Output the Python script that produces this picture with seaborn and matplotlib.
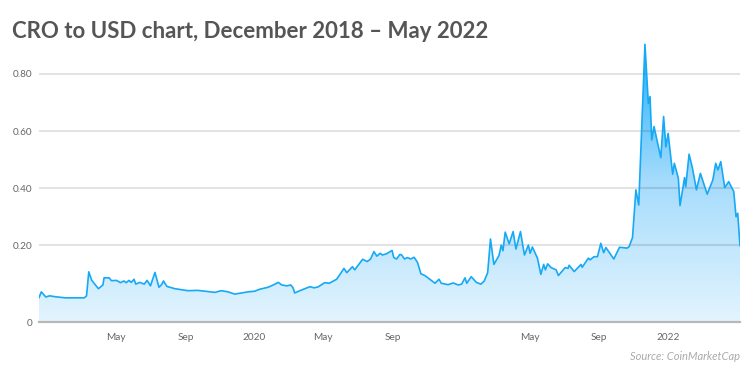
import numpy as np
import pandas as pd
import matplotlib
matplotlib.use("Agg")
import matplotlib.pyplot as plt
import matplotlib.dates as mdates
from matplotlib.colors import LinearSegmentedColormap
import seaborn as sns

# ---- data -------------------------------------------------------------
dates = [
    "2018-12-16", "2018-12-20", "2018-12-28", "2019-01-04", "2019-01-13", "2019-01-31",
    "2019-03-06", "2019-03-10", "2019-03-14", "2019-03-19", "2019-03-31", "2019-04-08",
    "2019-04-10", "2019-04-19", "2019-04-23", "2019-05-02", "2019-05-09", "2019-05-15",
    "2019-05-19", "2019-05-24", "2019-05-28", "2019-06-02", "2019-06-05", "2019-06-12",
    "2019-06-20", "2019-06-25", "2019-07-01", "2019-07-09", "2019-07-16", "2019-07-21",
    "2019-07-24", "2019-07-30", "2019-08-13", "2019-09-05", "2019-09-23", "2019-10-23",
    "2019-11-03", "2019-11-15", "2019-11-27", "2019-12-09", "2019-12-21", "2020-01-01",
    "2020-01-10", "2020-01-25", "2020-02-03", "2020-02-12", "2020-02-18", "2020-02-27",
    "2020-03-05", "2020-03-09", "2020-03-12", "2020-03-21", "2020-03-30", "2020-04-08",
    "2020-04-15", "2020-04-22", "2020-05-04", "2020-05-12", "2020-05-25", "2020-05-31",
    "2020-06-07", "2020-06-12", "2020-06-22", "2020-06-26", "2020-07-10", "2020-07-18",
    "2020-07-24", "2020-07-30", "2020-08-04", "2020-08-10", "2020-08-14", "2020-08-21",
    "2020-08-31", "2020-09-03", "2020-09-08", "2020-09-14", "2020-09-17", "2020-09-22",
    "2020-09-27", "2020-10-03", "2020-10-09", "2020-10-15", "2020-10-21", "2020-10-28",
    "2020-11-15", "2020-11-22", "2020-11-26", "2020-12-08", "2020-12-17", "2020-12-26",
    "2021-01-01", "2021-01-07", "2021-01-10", "2021-01-18", "2021-01-27", "2021-02-04",
    "2021-02-10", "2021-02-16", "2021-02-21", "2021-02-27", "2021-03-08", "2021-03-12",
    "2021-03-15", "2021-03-19", "2021-03-26", "2021-04-02", "2021-04-07", "2021-04-15",
    "2021-04-22", "2021-04-29", "2021-05-02", "2021-05-06", "2021-05-15", "2021-05-21",
    "2021-05-26", "2021-05-29", "2021-06-02", "2021-06-08", "2021-06-17", "2021-06-21",
    "2021-07-03", "2021-07-08", "2021-07-10", "2021-07-19", "2021-07-31", "2021-08-02",
    "2021-08-13", "2021-08-16", "2021-08-23", "2021-08-29", "2021-09-04", "2021-09-09",
    "2021-09-13", "2021-09-27", "2021-10-07", "2021-10-12", "2021-10-20", "2021-10-24",
    "2021-10-30", "2021-11-05", "2021-11-10", "2021-11-21", "2021-11-27", "2021-11-30",
    "2021-12-03", "2021-12-07", "2021-12-19", "2021-12-24", "2021-12-28", "2022-01-01",
    "2022-01-09", "2022-01-12", "2022-01-19", "2022-01-22", "2022-01-30", "2022-02-01",
    "2022-02-07", "2022-02-13", "2022-02-20", "2022-02-27", "2022-03-11", "2022-03-21",
    "2022-03-26", "2022-03-30", "2022-04-04", "2022-04-11", "2022-04-18", "2022-04-27",
    "2022-05-01", "2022-05-04", "2022-05-08",
]
prices = [
    0.016, 0.037, 0.019, 0.023, 0.020, 0.016,
    0.016, 0.023, 0.107, 0.078, 0.048, 0.061,
    0.086, 0.086, 0.076, 0.077, 0.069, 0.075,
    0.069, 0.077, 0.070, 0.081, 0.064, 0.070,
    0.064, 0.077, 0.058, 0.105, 0.053, 0.063,
    0.075, 0.056, 0.048, 0.041, 0.042, 0.035,
    0.041, 0.037, 0.029, 0.033, 0.037, 0.039,
    0.046, 0.053, 0.061, 0.070, 0.061, 0.058,
    0.061, 0.051, 0.033, 0.041, 0.048, 0.055,
    0.051, 0.054, 0.069, 0.067, 0.081, 0.098,
    0.119, 0.104, 0.125, 0.114, 0.151, 0.143,
    0.152, 0.178, 0.162, 0.172, 0.166, 0.170,
    0.182, 0.157, 0.152, 0.168, 0.166, 0.152,
    0.157, 0.152, 0.158, 0.140, 0.100, 0.094,
    0.067, 0.081, 0.067, 0.062, 0.068, 0.061,
    0.064, 0.086, 0.067, 0.090, 0.070, 0.064,
    0.075, 0.104, 0.222, 0.133, 0.164, 0.201,
    0.181, 0.246, 0.205, 0.248, 0.187, 0.248,
    0.166, 0.201, 0.172, 0.194, 0.155, 0.098,
    0.133, 0.114, 0.135, 0.122, 0.114, 0.094,
    0.122, 0.119, 0.130, 0.108, 0.133, 0.123,
    0.155, 0.149, 0.160, 0.160, 0.207, 0.174,
    0.192, 0.152, 0.193, 0.192, 0.190, 0.195,
    0.227, 0.394, 0.341, 0.904, 0.697, 0.721,
    0.569, 0.616, 0.507, 0.651, 0.545, 0.592,
    0.449, 0.487, 0.435, 0.339, 0.437, 0.405,
    0.519, 0.470, 0.394, 0.452, 0.379, 0.429,
    0.487, 0.464, 0.493, 0.402, 0.423, 0.388,
    0.300, 0.312, 0.198,
]
xtick_dates = ["2019-05-01", "2019-09-01", "2020-01-01", "2020-05-01",
               "2020-09-01", "2021-05-01", "2021-09-01", "2022-01-01"]
xtick_labels = ["May", "Sep", "2020", "May", "Sep", "May", "Sep", "2022"]
ytick_values = [0.2, 0.4, 0.6, 0.8]
ytick_labels = ["0", "0.20", "0.40", "0.60", "0.80"]

title = "CRO to USD chart, December 2018 \u2013 May 2022"
source = "Source: CoinMarketCap"

# ---- figure -----------------------------------------------------------
df = pd.DataFrame({"date": pd.to_datetime(dates), "price": prices})

sns.set_theme(style="white")
plt.rcParams["font.family"] = ["Lato", "DejaVu Sans"]

W, H = 750, 377
fig = plt.figure(figsize=(W / 100, H / 100), dpi=100)
ax = fig.add_axes([39 / W, 1 - 322 / H, (740 - 39) / W, (322 - 40) / H])

ymin, ymax = -0.0687, 0.919
x0, x1 = df["date"].iloc[0], df["date"].iloc[-1]

line_color = "#16a9f6"
sns.lineplot(data=df, x="date", y="price", ax=ax, color=line_color,
             linewidth=1.2, zorder=3)

# gradient area under the line
poly = ax.fill_between(df["date"], df["price"], ymin, color="none", linewidth=0)
cmap = LinearSegmentedColormap.from_list("g", ["#e3f4fe", "#a6dcfc", "#1eaefa"])
xn = mdates.date2num([x0, x1])
grad = np.linspace(0, 1, 256).reshape(-1, 1)
im = ax.imshow(grad, extent=[xn[0], xn[1], ymin, ymax], origin="lower",
               aspect="auto", cmap=cmap, zorder=1, interpolation="bicubic")
im.set_clip_path(poly.get_paths()[0], transform=ax.transData)

ax.set_xlim(x0, x1)
ax.set_ylim(ymin, ymax)

# grid
for v in ytick_values:
    ax.axhline(v, color=(0, 0, 0, 0.11), linewidth=1.5, zorder=2)

ax.set_yticks([ymin] + ytick_values)
ax.set_yticklabels(ytick_labels)
ax.set_xticks(pd.to_datetime(xtick_dates))
ax.set_xticklabels(xtick_labels)
ax.tick_params(axis="both", length=0, labelsize=7.2, labelcolor="#666666")
ax.tick_params(axis="y", pad=5)
ax.tick_params(axis="x", pad=8)
ax.set_xlabel("")
ax.set_ylabel("")

for s in ["left", "right", "top"]:
    ax.spines[s].set_visible(False)
ax.spines["bottom"].set_color("#b8b8b8")
ax.spines["bottom"].set_linewidth(1.6)
ax.spines["bottom"].set_zorder(4)

fig.text(12 / W, 1 - 31 / H, title, ha="left", va="center", fontsize=16,
         fontweight="bold", color="#555555")
fig.text(740 / W, 1 - 357 / H, source, ha="right", va="center", fontsize=8,
         style="italic", color="#aaaaaa")

fig.savefig("out.png", dpi=100)
